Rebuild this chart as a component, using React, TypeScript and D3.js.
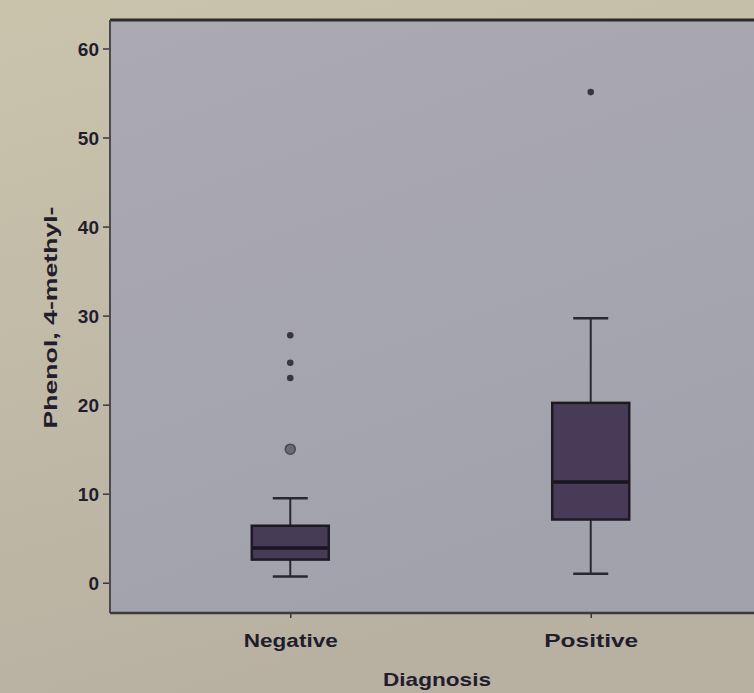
import React, { useEffect, useRef } from "react";
import { select, scaleLinear, scalePoint, axisLeft, axisBottom, range } from "d3";

// groups on the x axis
const categories = ["Negative", "Positive"];

// five-number summaries (whisker low, q1, median, q3, whisker high)
const whiskerLow = [0.7, 1.0];
const q1 = [2.6, 7.1];
const median = [3.9, 11.3];
const q3 = [6.4, 20.2];
const whiskerHigh = [9.5, 29.7];

// outliers: small dots are extremes, the ring one is a plain outlier
const extremes = [
  { group: "Negative", value: 27.8 },
  { group: "Negative", value: 24.7 },
  { group: "Negative", value: 23.0 },
  { group: "Positive", value: 55.1 },
];
const outliers = [{ group: "Negative", value: 15.0 }];

const yTicks = range(0, 70, 10);

function BoxPlot() {
  const svgRef = useRef<SVGSVGElement>(null);

  useEffect(() => {
    const svg = select(svgRef.current);
    svg.selectAll("*").remove();
    const width = 754;
    const height = 693;
    const left = 110, right = 771, top = 20, bottom = 613;

    const defs = svg.append("defs");
    const bg = defs.append("linearGradient").attr("id", "bg").attr("x1", 0).attr("y1", 0).attr("x2", 0.3).attr("y2", 1);
    bg.append("stop").attr("offset", "0%").attr("stop-color", "#cac3ac");
    bg.append("stop").attr("offset", "100%").attr("stop-color", "#b8b1a2");
    const pg = defs.append("linearGradient").attr("id", "pg").attr("x1", 0).attr("y1", 0).attr("x2", 0.4).attr("y2", 1);
    pg.append("stop").attr("offset", "0%").attr("stop-color", "#abaab2");
    pg.append("stop").attr("offset", "100%").attr("stop-color", "#a2a2ac");

    svg.append("rect").attr("width", width).attr("height", height).attr("fill", "url(#bg)");
    svg.append("rect")
      .attr("x", left).attr("y", top)
      .attr("width", right - left).attr("height", bottom - top)
      .attr("fill", "url(#pg)");

    const yScale = scaleLinear().domain([-3.4, 63.2]).range([bottom, top]);
    const xScale = scalePoint().domain(categories).range([left, right]).padding(0.6);

    const ink = "#221d2c";
    const font = "'Liberation Sans', Arial, sans-serif";

    // y axis
    const yAxis = axisLeft(yScale).tickValues(yTicks).tickSize(7).tickPadding(4).tickFormat((d: any) => String(d));
    const gy = svg.append("g").attr("transform", `translate(${left},0)`).call(yAxis);
    gy.select(".domain").remove();
    gy.selectAll("line").attr("stroke", "#3a3642").attr("stroke-width", 1.5);
    gy.selectAll("text")
      .attr("fill", ink).attr("font-family", font).attr("font-weight", "bold")
      .attr("font-size", 19).attr("dy", "0.35em");

    // x axis
    const xAxis = axisBottom(xScale).tickSize(5).tickPadding(16);
    const gx = svg.append("g").attr("transform", `translate(0,${bottom})`).call(xAxis);
    gx.select(".domain").remove();
    gx.selectAll("line").attr("stroke", "#3a3642").attr("stroke-width", 1.5);
    gx.selectAll("text")
      .attr("fill", ink).attr("font-family", font).attr("font-weight", "bold")
      .attr("font-size", 19).attr("textLength", 94).attr("lengthAdjust", "spacingAndGlyphs");

    // frame
    svg.append("line").attr("x1", left).attr("x2", width).attr("y1", top).attr("y2", top)
      .attr("stroke", "#2c2a2e").attr("stroke-width", 3);
    svg.append("line").attr("x1", left).attr("x2", left).attr("y1", top).attr("y2", bottom)
      .attr("stroke", "#4a4850").attr("stroke-width", 2);
    svg.append("line").attr("x1", left).attr("x2", width).attr("y1", bottom).attr("y2", bottom)
      .attr("stroke", "#3c3a40").attr("stroke-width", 2.5);

    // boxes
    const boxW = 77;
    const capW = 35;
    const rows = categories.map((c, i) => ({
      c, lo: whiskerLow[i], q1: q1[i], med: median[i], q3: q3[i], hi: whiskerHigh[i],
    }));
    const g = svg.selectAll(".box").data(rows).join("g").attr("class", "box")
      .attr("transform", d => `translate(${xScale(d.c)},0)`);

    g.append("line").attr("y1", d => yScale(d.hi)).attr("y2", d => yScale(d.q3))
      .attr("stroke", "#2a2730").attr("stroke-width", 2);
    g.append("line").attr("y1", d => yScale(d.lo)).attr("y2", d => yScale(d.q1))
      .attr("stroke", "#2a2730").attr("stroke-width", 2);
    g.append("line").attr("x1", -capW / 2).attr("x2", capW / 2)
      .attr("y1", d => yScale(d.hi)).attr("y2", d => yScale(d.hi))
      .attr("stroke", "#2a2730").attr("stroke-width", 2.5);
    g.append("line").attr("x1", -capW / 2).attr("x2", capW / 2)
      .attr("y1", d => yScale(d.lo)).attr("y2", d => yScale(d.lo))
      .attr("stroke", "#2a2730").attr("stroke-width", 2.5);
    g.append("rect").attr("x", -boxW / 2).attr("width", boxW)
      .attr("y", d => yScale(d.q3)).attr("height", d => yScale(d.q1) - yScale(d.q3))
      .attr("fill", "#473b58").attr("stroke", "#1d1a22").attr("stroke-width", 2.5);
    g.append("line").attr("x1", -boxW / 2 + 1).attr("x2", boxW / 2 - 1)
      .attr("y1", d => yScale(d.med)).attr("y2", d => yScale(d.med))
      .attr("stroke", "#18161e").attr("stroke-width", 3.5);

    // outliers
    svg.selectAll(".extreme").data(extremes).join("circle").attr("class", "extreme")
      .attr("cx", d => xScale(d.group) as number).attr("cy", d => yScale(d.value))
      .attr("r", 3.3).attr("fill", "#3a3640");
    svg.selectAll(".outlier").data(outliers).join("circle").attr("class", "outlier")
      .attr("cx", d => xScale(d.group) as number).attr("cy", d => yScale(d.value))
      .attr("r", 5).attr("fill", "#6c6a70").attr("stroke", "#4a4750").attr("stroke-width", 1.5);

    // axis titles
    svg.append("text")
      .attr("transform", `translate(50,${(top + bottom) / 2 + 1}) rotate(-90)`)
      .attr("text-anchor", "middle").attr("dominant-baseline", "central")
      .attr("fill", ink).attr("font-family", font).attr("font-weight", "bold")
      .attr("font-size", 19).attr("textLength", 222).attr("lengthAdjust", "spacingAndGlyphs")
      .text("Phenol, 4-methyl-");
    svg.append("text")
      .attr("x", 437).attr("y", 686)
      .attr("text-anchor", "middle")
      .attr("fill", ink).attr("font-family", font).attr("font-weight", "bold")
      .attr("font-size", 19).attr("textLength", 108).attr("lengthAdjust", "spacingAndGlyphs")
      .text("Diagnosis");
  }, []);

  return (
    <svg ref={svgRef} width={754} height={693}
      style={{ position: "absolute", left: 0, top: 0, display: "block" }} />
  );
}

export default function App() {
  return <BoxPlot />;
}
